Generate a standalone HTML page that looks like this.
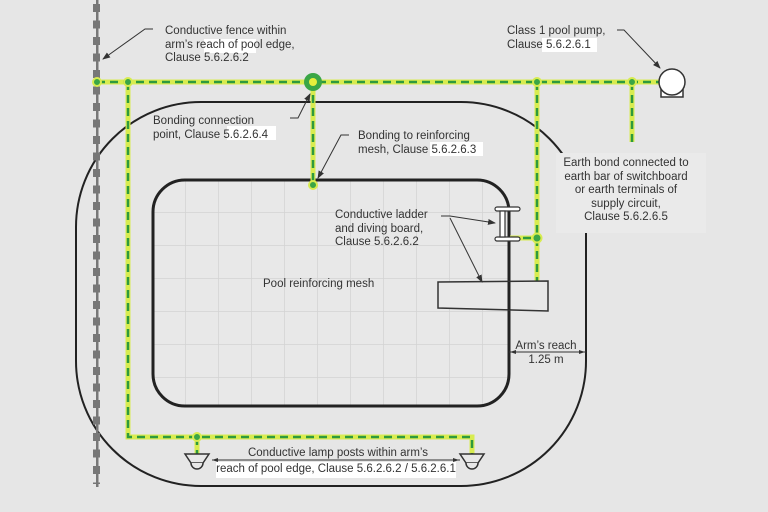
<!DOCTYPE html>
<html><head><style>
html,body{margin:0;padding:0;background:#e6e6e6;}
svg{display:block;font-family:"Liberation Sans",sans-serif;}
</style></head><body>
<svg width="768" height="512" viewBox="0 0 768 512" xmlns="http://www.w3.org/2000/svg">
<rect width="768" height="512" fill="#e6e6e6"/>
<defs>
<marker id="a" markerWidth="8" markerHeight="8" refX="7" refY="4" orient="auto" markerUnits="userSpaceOnUse"><path d="M0,1 L8,4 L0,7z" fill="#333"/></marker>
<pattern id="g" x="153" y="180" width="33" height="33" patternUnits="userSpaceOnUse"><path d="M33,0 V33 M0,33 H33" stroke="#d3d3d3" stroke-width="1.5" fill="none"/></pattern>
<pattern id="fp" x="0" y="4" width="20" height="16.5" patternUnits="userSpaceOnUse"><rect x="13" y="0" width="8" height="8" fill="#777"/></pattern>
</defs>
<!-- outer arm's reach boundary -->
<rect x="76" y="102" width="510" height="384" rx="125" ry="125" fill="none" stroke="#222" stroke-width="2"/>
<!-- pool -->
<rect x="153" y="180" width="356" height="226" rx="32" fill="#e8e8e8"/>
<rect x="153" y="180" width="356" height="226" rx="32" fill="url(#g)" stroke="#222" stroke-width="3"/>
<!-- fence -->
<rect x="96" y="0" width="2.5" height="487" fill="#777"/>
<rect x="80" y="4" width="30" height="480" fill="url(#fp)"/>
<!-- bonding lines -->
<g fill="none" stroke-linecap="butt">
<g stroke="#d8ec50" stroke-width="5">
<path d="M97,82 H660 M128,82 V437 H472 V455 M313,82 V185 M537,82 V283 M632,82 V142 M510,238 H537 M197,437 V455"/>
</g>
<g stroke="#2e9a3e" stroke-width="2.5" stroke-dasharray="8,5">
<path d="M97,82 H660 M128,82 V437 H472 V455 M313,82 V185 M537,82 V283 M632,82 V142 M510,238 H537 M197,437 V455"/>
</g>
</g>
<g fill="#3aa646" stroke="#d8ec50" stroke-width="2">
<circle cx="97" cy="82" r="4"/><circle cx="128" cy="82" r="4"/><circle cx="537" cy="82" r="4"/><circle cx="632" cy="82" r="4"/>
<circle cx="313" cy="185" r="4"/><circle cx="537" cy="238" r="4.5"/><circle cx="197" cy="437" r="4"/>
</g>
<circle cx="313" cy="82" r="9" fill="#3aa646"/><circle cx="313" cy="82" r="4" fill="#e6ee3c"/>
<!-- pump -->
<rect x="661" y="88" width="22" height="9" fill="#fff" stroke="#333" stroke-width="1.5"/>
<circle cx="672" cy="82" r="13" fill="#fff" stroke="#333" stroke-width="1.5"/>
<!-- ladder -->
<rect x="495" y="207" width="25" height="4" rx="2" fill="#fff" stroke="#333" stroke-width="1.2"/>
<rect x="495" y="237" width="25" height="4" rx="2" fill="#fff" stroke="#333" stroke-width="1.2"/>
<rect x="500" y="211" width="5" height="26" fill="#fff" stroke="#333" stroke-width="1.2"/>
<!-- diving board -->
<path d="M438,282 L548,281 L548,311 L438,308 Z" fill="#e8e8e8" stroke="#333" stroke-width="1.5"/>
<line x1="509" y1="282" x2="509" y2="310" stroke="#222" stroke-width="3"/>
<!-- lamps -->
<g fill="#e8e8e8" stroke="#333" stroke-width="1.5">
<path d="M185,454 H209 L203,463 H191 Z"/><path d="M191,463 A6,6 0 0 0 203,463"/>
<path d="M460,454 H484 L478,463 H466 Z"/><path d="M466,463 A6,6 0 0 0 478,463"/>
</g>
<!-- arm's reach dimension -->
<line x1="509" y1="352" x2="586" y2="352" stroke="#333" stroke-width="1"/>
<path d="M510,352 l6,-2 v4z M585,352 l-6,-2 v4z" fill="#333"/>
<!-- lamp label arrows -->
<line x1="212" y1="460" x2="460" y2="460" stroke="#333" stroke-width="1"/>
<path d="M212,460 l6,-2 v4z M459,460 l-6,-2 v4z" fill="#333"/>
<!-- leader lines -->
<g stroke="#333" stroke-width="1" fill="none" marker-end="url(#a)">
<path d="M153,29 H145 L103,59"/>
<path d="M617,30 H624 L660,68"/>
<path d="M290,118 H298 L310,94"/>
<path d="M349,135 H341 L318,178"/>
<path d="M441,216 H450 L495,223"/>
<path d="M450,218 L482,282"/>
</g>
<!-- label backgrounds -->
<rect x="204" y="39" width="52" height="14" fill="#fff"/>
<rect x="542" y="38" width="55" height="14" fill="#fff"/>
<rect x="227" y="126" width="49" height="14" fill="#fff"/>
<rect x="430" y="142" width="53" height="14" fill="#fff"/>
<rect x="556" y="153" width="150" height="80" fill="#eaeaea"/>
<rect x="216" y="462" width="240" height="16" fill="#fff"/>
<g font-size="11.5" fill="#333">
<text x="165" y="34">Conductive fence within</text>
<text x="165" y="48">arm’s reach of pool edge,</text>
<text x="165" y="61">Clause  5.6.2.6.2</text>
<text x="507" y="34">Class 1 pool pump,</text>
<text x="507" y="48">Clause  5.6.2.6.1</text>
<text x="153" y="124">Bonding connection</text>
<text x="153" y="138">point, Clause 5.6.2.6.4</text>
<text x="358" y="139">Bonding to reinforcing</text>
<text x="358" y="153">mesh, Clause 5.6.2.6.3</text>
<g text-anchor="middle">
<text x="626" y="166">Earth bond connected to</text>
<text x="626" y="180">earth bar of switchboard</text>
<text x="626" y="193">or earth terminals of</text>
<text x="626" y="207">supply circuit,</text>
<text x="626" y="220">Clause 5.6.2.6.5</text>
<text x="546" y="349">Arm’s reach</text>
<text x="546" y="363">1.25 m</text>
<text x="338" y="456">Conductive lamp posts within arm’s</text>
<text x="336" y="472">reach of pool edge, Clause 5.6.2.6.2 / 5.6.2.6.1</text>
</g>
<text x="335" y="218">Conductive ladder</text>
<text x="335" y="232">and diving board,</text>
<text x="335" y="245">Clause  5.6.2.6.2</text>
<text x="263" y="287">Pool reinforcing mesh</text>
</g>
</svg>
</body></html>
